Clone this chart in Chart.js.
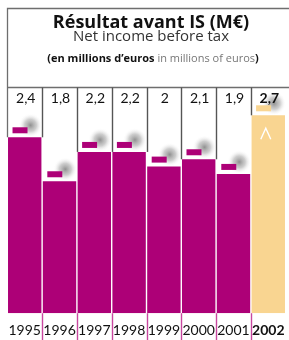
<!DOCTYPE html>
<html>
<head>
<meta charset="utf-8">
<script src="https://cdn.jsdelivr.net/npm/chart.js@4/dist/chart.umd.min.js"></script>
<style>
html, body { margin: 0; padding: 0; background: #fff; }
#wrap { position: relative; width: 289px; height: 340px; overflow: hidden; }
#chart { position: absolute; left: 0; top: 0; }
</style>
</head>
<body>
<div id="wrap"><canvas id="chart" width="293" height="347"></canvas></div>
<script>
// Résultat avant IS
const years = ['1995', '1996', '1997', '1998', '1999', '2000', '2001', '2002'];
const values = [2.4, 1.8, 2.2, 2.2, 2, 2.1, 1.9, 2.7];
const valueLabels = ['2,4', '1,8', '2,2', '2,2', '2', '2,1', '1,9', '2,7'];
const highlightYear = '2002';

const titleText = 'Résultat avant IS (M€)';
const subtitleText = 'Net income before tax';
const unitBold = '(en millions d\u2019euros';
const unitLight = ' in millions of euros';
const unitClose = ')';

const MAGENTA = '#ad0077';
const ORANGE = '#f9d591';
const FONT = 'Lato, "Open Sans", sans-serif';
const HEAD_FONT = '"Open Sans", Lato, sans-serif';

const isHighlight = i => years[i] === highlightYear;

const decorPlugin = {
    id: 'decor',
    afterDatasetsDraw(chart) {
        const ctx = chart.ctx;
        const yScale = chart.scales.y;
        const bars = chart.getDatasetMeta(0).data;
        const headerTop = 8.5;
        const headerBottom = 87.5;
        const base = yScale.getPixelForValue(0);

        ctx.save();

        // frame of the header
        ctx.strokeStyle = '#6e6e6e';
        ctx.lineWidth = 1.3;
        ctx.beginPath();
        ctx.moveTo(7.5, bars[0].y);
        ctx.lineTo(7.5, headerTop);
        ctx.lineTo(chart.width, headerTop);
        ctx.moveTo(7.5, headerBottom);
        ctx.lineTo(chart.width, headerBottom);
        ctx.stroke();

        // column dividers + pink ticks under the bars
        for (let i = 1; i < bars.length; i++) {
            const bx = Math.round((bars[i - 1].x + bars[i].x) / 2) + 0.5;
            const top = Math.min(bars[i - 1].y, bars[i].y);
            ctx.strokeStyle = '#555';
            ctx.lineWidth = 1.4;
            ctx.beginPath();
            ctx.moveTo(bx, headerBottom);
            ctx.lineTo(bx, top);
            ctx.stroke();

            ctx.strokeStyle = '#c8479f';
            ctx.lineWidth = 1.4;
            ctx.beginPath();
            ctx.moveTo(bx, base);
            ctx.lineTo(bx, chart.height);
            ctx.stroke();
        }

        // little markers with their grey glow
        bars.forEach((bar, i) => {
            const left = bar.x - bar.width / 2;
            const mx = left + 4.5;
            const my = bar.y - 10;
            const gx = mx + 18, gy = my - 2;
            const g = ctx.createRadialGradient(gx, gy, 0, gx, gy, 12);
            g.addColorStop(0, 'rgba(125,125,125,0.85)');
            g.addColorStop(0.5, 'rgba(165,165,165,0.55)');
            g.addColorStop(1, 'rgba(255,255,255,0)');
            ctx.fillStyle = g;
            ctx.fillRect(gx - 12, gy - 12, 24, 24);
            ctx.fillStyle = isHighlight(i) ? ORANGE : MAGENTA;
            ctx.fillRect(mx, my, 15, 6);
        });

        // caret on the highlighted bar
        bars.forEach((bar, i) => {
            if (!isHighlight(i)) return;
            const cx = bar.x - 2.5, cy = bar.y + 13;
            ctx.strokeStyle = '#fff';
            ctx.lineWidth = 1.4;
            ctx.beginPath();
            ctx.moveTo(cx - 5, cy + 11);
            ctx.lineTo(cx, cy);
            ctx.lineTo(cx + 5, cy + 11);
            ctx.stroke();
        });

        // value labels
        ctx.textAlign = 'center';
        ctx.textBaseline = 'alphabetic';
        ctx.fillStyle = '#111';
        bars.forEach((bar, i) => {
            ctx.font = (isHighlight(i) ? 'bold ' : '') + '14px ' + FONT;
            ctx.fillText(valueLabels[i], bar.x + 1, 103);
        });

        // header text
        const cx = 151;
        ctx.font = 'bold 18px ' + HEAD_FONT;
        ctx.fillStyle = '#111';
        ctx.fillText(titleText, cx, 28);
        ctx.font = '15px ' + HEAD_FONT;
        ctx.fillStyle = '#333';
        ctx.fillText(subtitleText, cx, 41);

        const fb = 'bold 11px ' + HEAD_FONT, fl = '11px ' + HEAD_FONT;
        ctx.font = fb;
        const w1 = ctx.measureText(unitBold).width;
        const w3 = ctx.measureText(unitClose).width;
        ctx.font = fl;
        const w2 = ctx.measureText(unitLight).width;
        let x0 = cx + 2 - (w1 + w2 + w3) / 2;
        ctx.textAlign = 'left';
        ctx.font = fb; ctx.fillStyle = '#111';
        ctx.fillText(unitBold, x0, 62);
        ctx.font = fl; ctx.fillStyle = '#777';
        ctx.fillText(unitLight, x0 + w1, 62);
        ctx.font = fb; ctx.fillStyle = '#111';
        ctx.fillText(unitClose, x0 + w1 + w2, 62);

        ctx.restore();
    }
};

new Chart(document.getElementById('chart'), {
    type: 'bar',
    data: {
        labels: years,
        datasets: [{
            data: values,
            backgroundColor: years.map((y, i) => isHighlight(i) ? ORANGE : MAGENTA),
            borderWidth: 0,
            categoryPercentage: 1,
            barPercentage: 0.96
        }]
    },
    options: {
        responsive: false,
        animation: false,
        layout: { padding: { left: 7, right: 0, top: 20, bottom: 0 } },
        plugins: {
            legend: { display: false },
            tooltip: { enabled: false }
        },
        scales: {
            x: {
                grid: { display: false, drawTicks: false },
                border: { display: false },
                ticks: {
                    color: '#111',
                    padding: 8.5,
                    maxRotation: 0,
                    autoSkip: false,
                    font: c => ({
                        family: FONT,
                        size: 14,
                        lineHeight: 1.2,
                        weight: years[c.index] === highlightYear ? 'bold' : 'normal'
                    })
                }
            },
            y: {
                display: false,
                min: 0,
                max: 4
            }
        }
    },
    plugins: [decorPlugin]
});
</script>
</body>
</html>
